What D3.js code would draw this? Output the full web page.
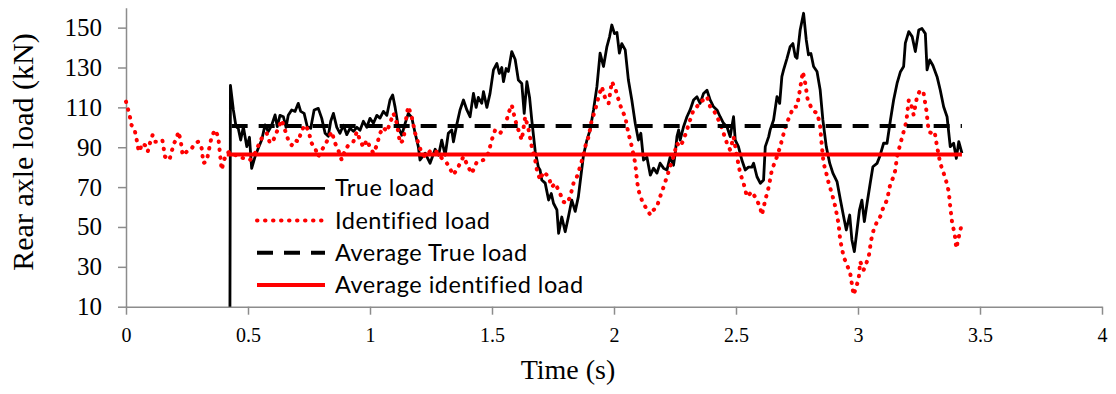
<!DOCTYPE html>
<html>
<head>
<meta charset="utf-8">
<script src="https://cdn.jsdelivr.net/npm/d3@7"></script>
<style>
  body { margin: 0; background: #fff; }
  svg { display: block; }
</style>
</head>
<body>
<svg id="grafico"></svg>
<script>
// time (s), load (kN)
var trueLoad = [[0.426,10],[0.428,121],[0.440,108.7],[0.451,100.3],[0.460,99.5],[0.470,93.6],[0.481,100.3],[0.495,90.3],[0.506,95],[0.515,79.4],[0.529,85.3],[0.542,89.5],[0.556,93.6],[0.570,101.2],[0.583,97.8],[0.597,101],[0.611,106.2],[0.620,100.3],[0.631,106],[0.645,105.3],[0.656,100],[0.665,106],[0.679,108.7],[0.693,108],[0.706,112],[0.716,108],[0.730,107],[0.743,100.3],[0.757,99.5],[0.771,108.7],[0.788,109.5],[0.802,104.6],[0.816,97],[0.829,95.5],[0.839,103],[0.850,107],[0.864,100],[0.877,97],[0.891,101],[0.905,96.3],[0.918,99.5],[0.932,98],[0.946,100],[0.959,98.5],[0.973,103],[0.987,100],[1.000,104.5],[1.014,102],[1.028,106],[1.041,104.6],[1.055,108],[1.069,106],[1.082,113.7],[1.093,116.2],[1.103,110],[1.116,100],[1.130,96],[1.144,102],[1.157,107],[1.171,105],[1.185,97],[1.198,90.3],[1.205,83.6],[1.226,87],[1.246,82],[1.267,89],[1.281,86],[1.294,93.6],[1.308,86],[1.321,97],[1.335,98.7],[1.342,92.7],[1.356,101.6],[1.369,108.7],[1.383,113.7],[1.397,108.7],[1.410,105.3],[1.424,117],[1.435,110],[1.444,115],[1.458,112],[1.465,117.9],[1.479,110],[1.492,117],[1.506,128.8],[1.520,132],[1.530,127],[1.540,130],[1.547,122.9],[1.558,129.5],[1.567,128],[1.581,138],[1.595,134],[1.608,123.7],[1.622,122],[1.632,107],[1.643,122.9],[1.654,115],[1.663,103.7],[1.677,88],[1.690,80],[1.697,78.6],[1.704,73.6],[1.718,72],[1.732,63.5],[1.743,66.8],[1.752,61.9],[1.766,58.6],[1.773,46.8],[1.786,55],[1.800,47.6],[1.813,55],[1.827,63.5],[1.841,57.8],[1.854,65.2],[1.864,75.2],[1.875,86],[1.889,93.6],[1.902,98.7],[1.916,108.7],[1.930,120.4],[1.943,137.2],[1.957,130.5],[1.971,140.5],[1.982,145.5],[1.991,151.3],[2.002,147],[2.012,147.6],[2.022,137.2],[2.032,142],[2.046,138.8],[2.059,123.7],[2.073,113.7],[2.087,102],[2.100,93.6],[2.110,97],[2.121,83.6],[2.135,85],[2.149,76],[2.162,79.5],[2.176,77],[2.189,82],[2.203,79.5],[2.217,78.6],[2.230,85],[2.244,81],[2.251,87],[2.258,95.3],[2.265,98.7],[2.271,93.6],[2.285,100.3],[2.299,105.3],[2.312,108.7],[2.326,113.7],[2.340,115.3],[2.353,112],[2.367,117],[2.381,118.6],[2.394,113.7],[2.408,110.3],[2.422,108.7],[2.435,105.3],[2.449,102],[2.463,100.3],[2.476,95.3],[2.490,105.3],[2.497,93.6],[2.510,90.3],[2.524,83.6],[2.538,78.6],[2.551,80],[2.565,80],[2.572,82],[2.586,75.2],[2.600,71.9],[2.613,73.6],[2.620,90.3],[2.634,95.3],[2.640,98.7],[2.654,103.7],[2.668,115.4],[2.679,112],[2.688,125.4],[2.695,128.8],[2.709,134.6],[2.722,140.5],[2.733,142],[2.743,135.5],[2.750,134.6],[2.763,148.8],[2.777,157.2],[2.788,143.8],[2.797,136.4],[2.807,137],[2.818,130.5],[2.832,128],[2.845,118.7],[2.856,103.7],[2.870,90.3],[2.884,82],[2.897,77],[2.914,72.8],[2.928,63.5],[2.941,55.2],[2.952,48.5],[2.966,56],[2.975,43.5],[2.985,37.6],[2.996,48.5],[3.006,58.5],[3.016,63.5],[3.026,52.7],[3.037,61.8],[3.050,71.9],[3.061,80.2],[3.078,81.9],[3.089,85.3],[3.105,92],[3.119,92],[3.133,103.7],[3.146,113.7],[3.160,122],[3.174,127.9],[3.187,130.5],[3.194,142.2],[3.208,148],[3.222,145.5],[3.235,138],[3.249,148.8],[3.262,149.6],[3.276,147],[3.283,128.8],[3.294,133.8],[3.307,131],[3.324,125.4],[3.337,118.7],[3.351,110.3],[3.365,105.3],[3.378,90.3],[3.392,92],[3.403,84.4],[3.413,92.8],[3.426,87]];

var identifiedLoad = [[0.000,112.9],[0.009,108.7],[0.016,105.3],[0.023,101],[0.037,97.8],[0.044,93.6],[0.050,89.5],[0.057,87.8],[0.064,91.9],[0.078,91],[0.089,87.8],[0.098,92],[0.109,96.1],[0.119,92.8],[0.132,92.8],[0.149,93.6],[0.160,85.3],[0.178,83.6],[0.187,87.8],[0.197,92],[0.208,94.5],[0.214,97.8],[0.224,93.6],[0.232,86],[0.249,87.8],[0.265,88.6],[0.283,92],[0.296,92.8],[0.310,89.5],[0.317,82],[0.331,83],[0.337,87],[0.351,95.3],[0.365,98.7],[0.378,95.3],[0.385,87],[0.392,78.6],[0.402,83.6],[0.413,87],[0.426,87.8],[0.440,86.5],[0.467,85],[0.508,83.6],[0.529,87],[0.549,92.8],[0.563,96],[0.577,97],[0.590,92],[0.604,93.6],[0.624,99.5],[0.638,103.7],[0.652,98.5],[0.665,93.6],[0.679,91],[0.693,93.6],[0.706,92.8],[0.720,98.5],[0.734,101.2],[0.747,98.5],[0.761,92],[0.775,89.5],[0.788,85.3],[0.802,88.6],[0.816,91],[0.829,94.5],[0.843,97.8],[0.857,92],[0.870,88.6],[0.884,83.6],[0.898,88.6],[0.911,91],[0.932,92.8],[0.946,97.8],[0.959,93.6],[0.973,90],[0.987,93.6],[1.000,90],[1.014,87],[1.028,91],[1.041,97],[1.055,100],[1.069,97.8],[1.082,102],[1.096,107],[1.110,102],[1.123,92],[1.137,93.6],[1.151,107],[1.157,110.4],[1.171,105.3],[1.185,97],[1.198,92],[1.212,87],[1.226,85.3],[1.246,88],[1.267,88.6],[1.288,85.3],[1.315,82],[1.342,76.1],[1.362,80.2],[1.383,85.3],[1.403,80],[1.417,76.8],[1.438,82.7],[1.465,83.6],[1.485,87],[1.499,93.6],[1.513,98.7],[1.533,97],[1.554,100.3],[1.567,107],[1.581,111.2],[1.595,103.7],[1.608,98.7],[1.622,93.6],[1.636,105.3],[1.650,98.7],[1.663,90.3],[1.677,83.6],[1.684,78.6],[1.697,73.6],[1.711,77.7],[1.732,75.2],[1.745,70],[1.759,71.9],[1.779,66.8],[1.793,62.6],[1.807,61.9],[1.820,65],[1.834,71.9],[1.848,75.2],[1.861,80.2],[1.875,86],[1.882,90.3],[1.896,95.3],[1.909,103.7],[1.923,108.7],[1.937,115.4],[1.950,120.4],[1.964,114.5],[1.978,112],[1.991,122.9],[2.005,119.5],[2.019,113.7],[2.032,108.7],[2.046,105.3],[2.059,97],[2.073,90.3],[2.087,82],[2.094,73.6],[2.100,68.5],[2.114,63.5],[2.128,60.2],[2.149,56],[2.162,58.5],[2.176,60.2],[2.189,65.2],[2.203,70],[2.217,75.2],[2.230,80.2],[2.244,85.3],[2.258,92],[2.271,90.3],[2.285,93.6],[2.299,98.7],[2.312,103.7],[2.326,108.7],[2.340,110.3],[2.353,112.9],[2.367,113.7],[2.381,115.4],[2.394,110.3],[2.408,108.7],[2.422,105.3],[2.435,102],[2.449,97],[2.463,92],[2.476,88.6],[2.490,95.3],[2.504,85.3],[2.517,77],[2.531,72],[2.545,65.2],[2.565,67.7],[2.586,63.5],[2.600,59.3],[2.606,56],[2.620,63.5],[2.634,70],[2.647,78.6],[2.668,85.3],[2.681,90.3],[2.692,95.3],[2.702,100.3],[2.722,106.2],[2.736,110.3],[2.750,110.3],[2.763,119.6],[2.774,127.9],[2.784,122],[2.794,113.7],[2.807,110.3],[2.821,107.9],[2.834,107],[2.845,100.3],[2.852,90.3],[2.859,82],[2.870,77],[2.880,71.9],[2.893,66.8],[2.907,60.2],[2.920,51.8],[2.927,43.5],[2.941,35.1],[2.955,30.9],[2.968,26.8],[2.982,15.9],[2.993,20],[3.003,24.2],[3.009,32.6],[3.023,28.4],[3.034,31.8],[3.044,35.1],[3.054,43.5],[3.064,48.5],[3.078,52.7],[3.091,55.2],[3.105,60.2],[3.119,63.5],[3.133,71.9],[3.146,75.2],[3.153,78.6],[3.160,85.3],[3.174,92],[3.187,97.8],[3.198,102.8],[3.208,113.7],[3.217,112],[3.228,106.2],[3.242,115.4],[3.255,118.7],[3.269,117],[3.280,108.7],[3.290,97.8],[3.303,97],[3.314,97.8],[3.324,90.3],[3.337,82],[3.351,77],[3.362,72.7],[3.372,67.7],[3.378,60.2],[3.386,51.8],[3.396,46.8],[3.403,39.3],[3.413,45],[3.426,51.8]];

var averageTrue = [[0.433,100.7],[3.426,100.7]];
var averageIdentified = [[0.413,86.3],[3.426,86.3]];

var xTicks = [0,0.5,1,1.5,2,2.5,3,3.5,4];
var yTicks = [10,30,50,70,90,110,130,150];

var legendNames = ['True load','Identified load','Average True load','Average identified load'];

var largura = 1116, altura = 394;
var svg = d3.select('#grafico').attr('width', largura).attr('height', altura);

var x = d3.scaleLinear().domain([0,4]).range([126,1102]);
var y = d3.scaleLinear().domain([10,160]).range([306.7,7.7]);

var corEixo = '#8c8c8c';
var serifa = '"Liberation Serif", "Times New Roman", serif';

// eixo x
var eixoX = svg.append('g')
  .attr('transform', 'translate(0,' + y(10) + ')')
  .call(d3.axisBottom(x).tickValues(xTicks).tickSize(8).tickSizeOuter(0).tickPadding(13).tickFormat(d => d));
eixoX.select('.domain').attr('stroke', corEixo).attr('stroke-width', 1.5);
eixoX.selectAll('.tick line').attr('stroke', corEixo).attr('stroke-width', 1.5);
eixoX.selectAll('text')
  .attr('fill', '#000')
  .style('font-family', serifa)
  .style('font-size', '20px');

// eixo y
var eixoY = svg.append('g')
  .attr('transform', 'translate(' + x(0) + ',0)')
  .call(d3.axisLeft(y).tickValues(yTicks).tickSize(8).tickSizeOuter(0).tickPadding(16));
eixoY.select('.domain').attr('stroke', corEixo).attr('stroke-width', 1.5);
eixoY.selectAll('.tick line').attr('stroke', corEixo).attr('stroke-width', 1.5);
eixoY.selectAll('text')
  .attr('fill', '#000')
  .style('font-family', serifa)
  .style('font-size', '25px');

// titulos
svg.append('text')
  .attr('x', 568).attr('y', 379)
  .attr('text-anchor', 'middle')
  .style('font-family', serifa)
  .style('font-size', '28px')
  .text('Time (s)');

svg.append('text')
  .attr('transform', 'translate(33,152) rotate(-90)')
  .attr('text-anchor', 'middle')
  .style('font-family', serifa)
  .style('font-size', '30px')
  .text('Rear axle load (kN)');

var linha = d3.line().x(d => x(d[0])).y(d => y(d[1]));

var estilos = [
  {cor: '#000', largura: 2.8, traco: null, cap: 'butt'},
  {cor: '#ff0000', largura: 4, traco: '0.5,7.5', cap: 'round'},
  {cor: '#000', largura: 4, traco: '16,11', cap: 'butt'},
  {cor: '#ff0000', largura: 4, traco: null, cap: 'butt'}
];
var series = [trueLoad, identifiedLoad, averageTrue, averageIdentified];

series.forEach(function(dados, i) {
  var e = estilos[i];
  svg.append('path')
    .datum(dados)
    .attr('fill', 'none')
    .attr('stroke', e.cor)
    .attr('stroke-width', e.largura)
    .attr('stroke-linejoin', 'round')
    .attr('stroke-linecap', e.cap)
    .attr('stroke-dasharray', e.traco)
    .attr('d', linha);
});

// legenda
var legenda = svg.append('g').attr('transform', 'translate(257,188.3)');
legendNames.forEach(function(nome, i) {
  var e = estilos[i];
  var g = legenda.append('g').attr('transform', 'translate(0,' + (i * 32.2) + ')');
  g.append('line')
    .attr('x1', 0).attr('x2', 68)
    .attr('stroke', e.cor)
    .attr('stroke-width', e.largura)
    .attr('stroke-linecap', e.cap)
    .attr('stroke-dasharray', e.traco);
  g.append('text')
    .attr('x', 78).attr('y', 8)
    .style('font-family', 'Lato, "Open Sans", sans-serif')
    .style('font-size', '23.5px')
    .style('letter-spacing', '0.5px')
    .text(nome);
});
</script>
</body>
</html>
